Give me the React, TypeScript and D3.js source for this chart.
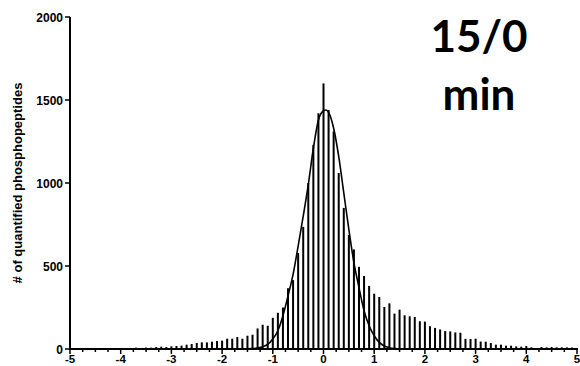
import * as d3 from "d3";

// histogram of log2 ratios, bins of 0.1 from -5 to 5
const binCenters = d3.range(0, 101).map((i) => -5 + i * 0.1);
const counts = [
  0, 0, 0, 3, 4, 2, 3, 6, 3, 4, // -5.0 .. -4.1
  5, 4, 6, 8, 6, 9, 8, 12, 14, 12, // -4.0 .. -3.1
  16, 18, 20, 26, 30, 36, 40, 40, 44, 48, // -3.0 .. -2.1
  50, 62, 62, 72, 62, 80, 86, 124, 146, 140, // -2.0 .. -1.1
  188, 218, 250, 366, 415, 578, 736, 1000, 1230, 1420, // -1.0 .. -0.1
  1600, 1440, 1310, 1060, 850, 687, 600, 495, 440, 380, // 0.0 .. 0.9
  333, 313, 253, 275, 213, 237, 203, 197, 193, 167, // 1.0 .. 1.9
  165, 137, 127, 118, 108, 106, 100, 98, 61, 60, // 2.0 .. 2.9
  62, 45, 44, 36, 26, 26, 20, 20, 16, 14, // 3.0 .. 3.9
  18, 10, 5, 12, 10, 12, 10, 10, 10, 9, // 4.0 .. 4.9
  6, // 5.0
];

// gaussian fit curve
const fitX = [-1.5, -1.3, -1.1, -1.0, -0.9, -0.8, -0.7, -0.6, -0.5, -0.4, -0.3, -0.2, -0.1, 0.0, 0.05, 0.1, 0.2, 0.3, 0.4, 0.5, 0.6, 0.7, 0.8, 0.9, 1.0, 1.1, 1.2, 1.3, 1.4, 1.55];
const fitY = [1, 6, 28, 60, 110, 200, 320, 450, 620, 800, 990, 1210, 1380, 1435, 1440, 1425, 1330, 1160, 940, 720, 520, 370, 230, 140, 80, 40, 18, 8, 3, 0];

const yTicks = [0, 500, 1000, 1500, 2000];
const xTicks = [-5, -4, -3, -2, -1, 0, 1, 2, 3, 4, 5];
const xMinorTicks = d3.range(-5, 5.001, 0.25).filter((t) => Math.abs(t - Math.round(t)) > 0.01);

const yTitle = "# of quantified phosphopeptides";
const label = ["15/0", "min"];

export default function App() {
  const width = 580;
  const height = 366;
  const x = d3.scaleLinear().domain([-5, 5]).range([70, 577]);
  const y = d3.scaleLinear().domain([0, 2000]).range([349, 17]);

  const line = d3
    .line<number>()
    .x((_, i) => x(fitX[i]))
    .y((d) => y(d))
    .curve(d3.curveMonotoneX);

  const font = "'Liberation Sans', Arial, sans-serif";

  return (
    <svg
      width={width}
      height={height}
      style={{ position: "absolute", left: 0, top: 0, background: "#fff" }}
    >
      {/* bars */}
      <g fill="#000">
        {counts.map((c, i) =>
          c > 0 ? (
            <rect
              key={i}
              x={x(binCenters[i]) - 1}
              y={y(c)}
              width={2}
              height={y(0) - y(c)}
            />
          ) : null
        )}
      </g>

      {/* fit curve */}
      <path d={line(fitY) ?? ""} fill="none" stroke="#000" strokeWidth={1.6} />

      {/* y axis */}
      <line x1={70} x2={70} y1={y(2000)} y2={y(0)} stroke="#000" strokeWidth={2} />
      {yTicks.map((t) => (
        <g key={t}>
          <line x1={65} x2={70} y1={y(t)} y2={y(t)} stroke="#000" strokeWidth={1.5} />
          <text
            x={63}
            y={y(t) + 4.5}
            textAnchor="end"
            fontFamily={font}
            fontWeight="bold"
            fontSize={12}
          >
            {t}
          </text>
        </g>
      ))}
      <text
        transform={`translate(22, ${(y(0) + y(2000)) / 2}) rotate(-90)`}
        textAnchor="middle"
        fontFamily={font}
        fontWeight="bold"
        fontSize={13}
      >
        {yTitle}
      </text>

      {/* x axis */}
      <line x1={69} x2={x(5) + 1} y1={y(0)} y2={y(0)} stroke="#000" strokeWidth={2} />
      {xMinorTicks.map((t) => (
        <line key={t} x1={x(t)} x2={x(t)} y1={y(0)} y2={y(0) + 3} stroke="#000" strokeWidth={1.5} />
      ))}
      {xTicks.map((t) => (
        <g key={t}>
          <line x1={x(t)} x2={x(t)} y1={y(0)} y2={y(0) + 5} stroke="#000" strokeWidth={1.5} />
          <text
            x={x(t)}
            y={363}
            textAnchor="middle"
            fontFamily={font}
            fontWeight="bold"
            fontSize={11.5}
          >
            {t}
          </text>
        </g>
      ))}

      {/* panel label */}
      {label.map((s, i) => (
        <text
          key={s}
          x={479}
          y={52 + i * 58}
          textAnchor="middle"
          fontFamily="Lato, 'Open Sans', sans-serif"
          fontWeight="bold"
          fontSize={44}
        >
          {s}
        </text>
      ))}
    </svg>
  );
}
